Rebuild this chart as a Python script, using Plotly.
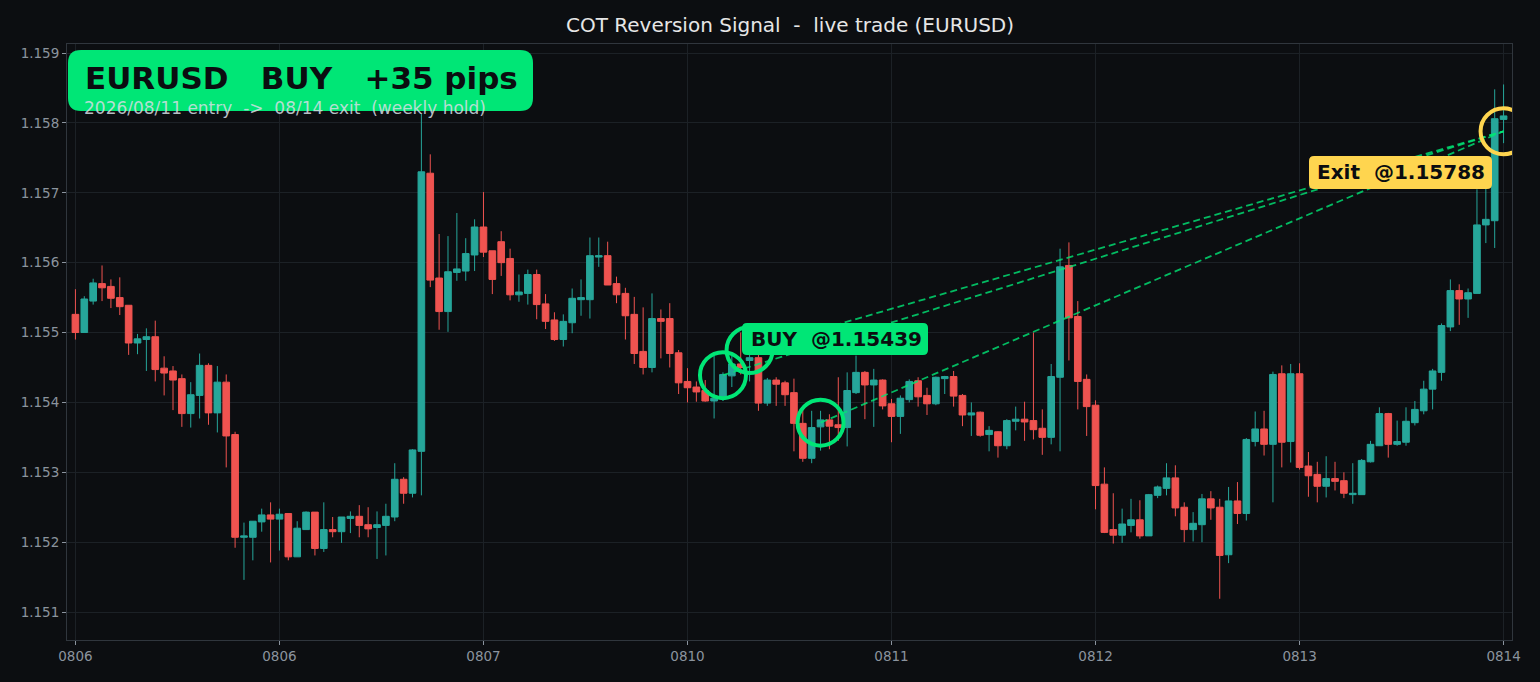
import plotly.graph_objects as go

# hourly EURUSD candles, 0806 -> 0814
OPEN = [1.15526, 1.15500, 1.15545, 1.15570, 1.15566, 1.15550, 1.15539, 1.15485, 1.15490, 1.15494,
        1.15449, 1.15445, 1.15434, 1.15384, 1.15410, 1.15453, 1.15385, 1.15429, 1.15354, 1.15207,
        1.15207, 1.15229, 1.15239, 1.15233, 1.15241, 1.15179, 1.15218, 1.15243, 1.15191, 1.15218,
        1.15215, 1.15234, 1.15237, 1.15225, 1.15221, 1.15224, 1.15236, 1.15290, 1.15270, 1.15330,
        1.15728, 1.15578, 1.15530, 1.15586, 1.15588, 1.15611, 1.15651, 1.15617, 1.15630, 1.15606,
        1.15554, 1.15556, 1.15583, 1.15541, 1.15518, 1.15490, 1.15514, 1.15547, 1.15547, 1.15608,
        1.15610, 1.15570, 1.15556, 1.15526, 1.15473, 1.15450, 1.15520, 1.15520, 1.15471, 1.15430,
        1.15422, 1.15417, 1.15402, 1.15405, 1.15438, 1.15455, 1.15460, 1.15464, 1.15399, 1.15432,
        1.15428, 1.15414, 1.15370, 1.15320, 1.15365, 1.15375, 1.15368, 1.15364, 1.15414, 1.15443,
        1.15425, 1.15432, 1.15398, 1.15380, 1.15404, 1.15431, 1.15410, 1.15398, 1.15434, 1.15437,
        1.15410, 1.15382, 1.15386, 1.15354, 1.15358, 1.15338, 1.15373, 1.15376, 1.15374, 1.15363,
        1.15350, 1.15436, 1.15596, 1.15523, 1.15433, 1.15396, 1.15283, 1.15218, 1.15210, 1.15224,
        1.15232, 1.15209, 1.15267, 1.15277, 1.15292, 1.15250, 1.15218, 1.15225, 1.15262, 1.15250,
        1.15182, 1.15259, 1.15241, 1.15344, 1.15362, 1.15340, 1.15441, 1.15344, 1.15441, 1.15309,
        1.15297, 1.15280, 1.15291, 1.15288, 1.15268, 1.15268, 1.15315, 1.15338, 1.15384, 1.15340,
        1.15343, 1.15371, 1.15388, 1.15419, 1.15443, 1.15508, 1.15560, 1.15548, 1.15556, 1.15654,
        1.15660, 1.15805]
HIGH = [1.15562, 1.15552, 1.15577, 1.15596, 1.15576, 1.15579, 1.15539, 1.15498, 1.15506, 1.15517,
        1.15466, 1.15452, 1.15440, 1.15429, 1.15470, 1.15456, 1.15452, 1.15440, 1.15358, 1.15228,
        1.15230, 1.15248, 1.15257, 1.15248, 1.15241, 1.15230, 1.15244, 1.15243, 1.15257, 1.15236,
        1.15236, 1.15244, 1.15253, 1.15250, 1.15244, 1.15255, 1.15313, 1.15293, 1.15333, 1.15813,
        1.15755, 1.15641, 1.15638, 1.15671, 1.15635, 1.15662, 1.15701, 1.15617, 1.15645, 1.15620,
        1.15583, 1.15590, 1.15590, 1.15555, 1.15529, 1.15526, 1.15563, 1.15576, 1.15636, 1.15636,
        1.15630, 1.15580, 1.15564, 1.15551, 1.15536, 1.15556, 1.15533, 1.15542, 1.15475, 1.15449,
        1.15430, 1.15432, 1.15467, 1.15443, 1.15470, 1.15500, 1.15500, 1.15468, 1.15435, 1.15436,
        1.15431, 1.15434, 1.15390, 1.15388, 1.15388, 1.15383, 1.15436, 1.15443, 1.15467, 1.15445,
        1.15448, 1.15433, 1.15405, 1.15410, 1.15433, 1.15436, 1.15421, 1.15437, 1.15438, 1.15445,
        1.15412, 1.15400, 1.15387, 1.15366, 1.15359, 1.15376, 1.15394, 1.15401, 1.15500, 1.15390,
        1.15455, 1.15620, 1.15629, 1.15545, 1.15440, 1.15403, 1.15307, 1.15270, 1.15248, 1.15262,
        1.15260, 1.15269, 1.15281, 1.15313, 1.15310, 1.15257, 1.15243, 1.15269, 1.15273, 1.15262,
        1.15279, 1.15286, 1.15349, 1.15387, 1.15388, 1.15444, 1.15453, 1.15455, 1.15456, 1.15329,
        1.15315, 1.15323, 1.15315, 1.15300, 1.15313, 1.15319, 1.15345, 1.15393, 1.15385, 1.15374,
        1.15393, 1.15402, 1.15431, 1.15448, 1.15513, 1.15576, 1.15569, 1.15563, 1.15705, 1.15709,
        1.15848, 1.15855]
LOW = [1.15490, 1.15500, 1.15540, 1.15545, 1.15535, 1.15525, 1.15468, 1.15469, 1.15445, 1.15430,
       1.15410, 1.15389, 1.15365, 1.15364, 1.15377, 1.15368, 1.15357, 1.15307, 1.15192, 1.15146,
       1.15174, 1.15215, 1.15171, 1.15188, 1.15174, 1.15179, 1.15218, 1.15181, 1.15186, 1.15207,
       1.15199, 1.15213, 1.15207, 1.15207, 1.15176, 1.15181, 1.15230, 1.15255, 1.15264, 1.15267,
       1.15565, 1.15504, 1.15501, 1.15574, 1.15574, 1.15588, 1.15608, 1.15555, 1.15581, 1.15546,
       1.15544, 1.15540, 1.15519, 1.15505, 1.15488, 1.15480, 1.15499, 1.15524, 1.15520, 1.15594,
       1.15568, 1.15542, 1.15490, 1.15455, 1.15440, 1.15443, 1.15463, 1.15450, 1.15412, 1.15400,
       1.15401, 1.15401, 1.15377, 1.15402, 1.15422, 1.15440, 1.15430, 1.15388, 1.15395, 1.15395,
       1.15395, 1.15330, 1.15315, 1.15313, 1.15331, 1.15333, 1.15345, 1.15337, 1.15412, 1.15376,
       1.15365, 1.15390, 1.15343, 1.15355, 1.15400, 1.15394, 1.15382, 1.15396, 1.15412, 1.15394,
       1.15366, 1.15352, 1.15351, 1.15330, 1.15321, 1.15333, 1.15360, 1.15345, 1.15347, 1.15325,
       1.15340, 1.15330, 1.15460, 1.15390, 1.15352, 1.15247, 1.15213, 1.15198, 1.15199, 1.15214,
       1.15205, 1.15209, 1.15263, 1.15267, 1.15237, 1.15200, 1.15201, 1.15200, 1.15232, 1.15119,
       1.15170, 1.15226, 1.15231, 1.15337, 1.15324, 1.15257, 1.15307, 1.15314, 1.15304, 1.15265,
       1.15257, 1.15264, 1.15274, 1.15263, 1.15255, 1.15268, 1.15314, 1.15338, 1.15321, 1.15338,
       1.15338, 1.15367, 1.15383, 1.15390, 1.15431, 1.15502, 1.15511, 1.15521, 1.15556, 1.15628,
       1.15621, 1.15771]
CLOSE = [1.15500, 1.15548, 1.15571, 1.15564, 1.15549, 1.15537, 1.15485, 1.15491, 1.15494, 1.15447,
         1.15442, 1.15432, 1.15384, 1.15411, 1.15453, 1.15385, 1.15429, 1.15352, 1.15207, 1.15209,
         1.15230, 1.15239, 1.15233, 1.15240, 1.15179, 1.15220, 1.15243, 1.15191, 1.15218, 1.15215,
         1.15236, 1.15237, 1.15224, 1.15219, 1.15225, 1.15237, 1.15290, 1.15270, 1.15332, 1.15730,
         1.15575, 1.15530, 1.15587, 1.15591, 1.15613, 1.15651, 1.15615, 1.15576, 1.15600, 1.15554,
         1.15558, 1.15583, 1.15540, 1.15516, 1.15490, 1.15516, 1.15549, 1.15550, 1.15610, 1.15610,
         1.15568, 1.15554, 1.15524, 1.15470, 1.15450, 1.15520, 1.15516, 1.15470, 1.15428, 1.15421,
         1.15415, 1.15402, 1.15406, 1.15440, 1.15455, 1.15450, 1.15464, 1.15399, 1.15432, 1.15426,
         1.15411, 1.15370, 1.15320, 1.15364, 1.15375, 1.15366, 1.15364, 1.15417, 1.15443, 1.15425,
         1.15432, 1.15395, 1.15380, 1.15406, 1.15430, 1.15408, 1.15398, 1.15436, 1.15437, 1.15409,
         1.15382, 1.15385, 1.15353, 1.15360, 1.15338, 1.15374, 1.15376, 1.15372, 1.15361, 1.15350,
         1.15437, 1.15594, 1.15521, 1.15430, 1.15394, 1.15281, 1.15214, 1.15210, 1.15226, 1.15232,
         1.15209, 1.15268, 1.15279, 1.15292, 1.15249, 1.15218, 1.15227, 1.15262, 1.15249, 1.15181,
         1.15259, 1.15241, 1.15347, 1.15362, 1.15340, 1.15440, 1.15343, 1.15441, 1.15307, 1.15295,
         1.15280, 1.15291, 1.15287, 1.15270, 1.15270, 1.15317, 1.15340, 1.15384, 1.15340, 1.15344,
         1.15373, 1.15390, 1.15419, 1.15445, 1.15510, 1.15560, 1.15548, 1.15557, 1.15654, 1.15662,
         1.15806, 1.15810]

TICK_LABELS = ["0806", "0806", "0807", "0810", "0811", "0812", "0813", "0814"]
TICK_STEP = 23

# trade markers
ENTRY_IDX = [73, 76, 84]
ENTRY_PRICE = [1.15439, 1.15475, 1.15371]
EXIT_IDX = 161
EXIT_PRICE = 1.15788

BG = "#0c0e11"
GRID = "#1c2126"
SPINE = "#30363d"
TICK_COL = "#8b949e"
GREEN = "#00e676"
YELLOW = "#ffd54f"
UP = "#26a69a"
DOWN = "#ef5350"
FONT = "DejaVu Sans"

W, H = 1540, 682
PLOT_L, PLOT_R, PLOT_T, PLOT_B = 67, 1512, 44, 640
PLOT_W = PLOT_R - PLOT_L
PLOT_H = PLOT_B - PLOT_T


def px(x):
    return (x - PLOT_L) / PLOT_W


def py(y):
    return (PLOT_B - y) / PLOT_H


def rounded_box(x0, y0, x1, y1, r, color):
    # rounded rectangle given in page pixels, drawn in paper coords
    path = (f"M {px(x0 + r)},{py(y0)} L {px(x1 - r)},{py(y0)} "
            f"Q {px(x1)},{py(y0)} {px(x1)},{py(y0 + r)} L {px(x1)},{py(y1 - r)} "
            f"Q {px(x1)},{py(y1)} {px(x1 - r)},{py(y1)} L {px(x0 + r)},{py(y1)} "
            f"Q {px(x0)},{py(y1)} {px(x0)},{py(y1 - r)} L {px(x0)},{py(y0 + r)} "
            f"Q {px(x0)},{py(y0)} {px(x0 + r)},{py(y0)} Z")
    return dict(type="path", path=path, xref="paper", yref="paper",
                fillcolor=color, line=dict(width=0), layer="above")


def label(text, x, y, size, color, bold=True, xanchor="left"):
    return dict(text=text, x=px(x), y=py(y), xref="paper", yref="paper",
                xanchor=xanchor, yanchor="middle", showarrow=False,
                font=dict(family=FONT, size=size, color=color,
                          weight="bold" if bold else "normal"))


idx = list(range(len(OPEN)))
tickvals = list(range(0, len(OPEN), TICK_STEP))

fig = go.Figure()

fig.add_trace(go.Candlestick(
    x=idx, open=OPEN, high=HIGH, low=LOW, close=CLOSE,
    increasing=dict(line=dict(color=UP, width=1), fillcolor=UP),
    decreasing=dict(line=dict(color=DOWN, width=1), fillcolor=DOWN),
    whiskerwidth=0, showlegend=False, hoverinfo="skip",
))

# dashed links entry -> exit
for e, p in zip(ENTRY_IDX, ENTRY_PRICE):
    fig.add_trace(go.Scatter(
        x=[e, EXIT_IDX], y=[p, EXIT_PRICE], mode="lines",
        line=dict(color="rgba(0,230,118,0.8)", width=1.8, dash="7px,4px"),
        showlegend=False, hoverinfo="skip",
    ))

fig.add_trace(go.Scatter(
    x=ENTRY_IDX, y=ENTRY_PRICE, mode="markers",
    marker=dict(symbol="circle-open", size=46, color=GREEN, line=dict(width=4, color=GREEN)),
    showlegend=False, hoverinfo="skip",
))
fig.add_trace(go.Scatter(
    x=[EXIT_IDX], y=[EXIT_PRICE], mode="markers",
    marker=dict(symbol="circle-open", size=46, color=YELLOW, line=dict(width=4, color=YELLOW)),
    showlegend=False, hoverinfo="skip",
))

nb = "\u00a0"
shapes = [
    rounded_box(68, 50, 533, 111, 13, GREEN),
    rounded_box(742, 323, 928, 355, 5, GREEN),
    rounded_box(1309, 156, 1492, 189, 5, YELLOW),
]
annotations = [
    label(f"COT Reversion Signal{nb}{nb}-{nb}{nb}live trade (EURUSD)", (PLOT_L + PLOT_R) / 2, 25,
          20, "#e6e6e6", bold=False, xanchor="center"),
    label(f"EURUSD{nb}{nb}{nb}BUY{nb}{nb}{nb}+35 pips", 83, 78, 31, "#0b0d10"),
    label(f"2026/08/11 entry{nb}{nb}->{nb}{nb}08/14 exit{nb}{nb}(weekly hold)", 82, 108, 17,
          "rgba(215,222,228,0.85)", bold=False),
    label(f"BUY{nb}{nb}@1.15439", 749, 339, 20, "#0b0d10"),
    label(f"Exit{nb}{nb}@1.15788", 1315, 172, 20, "#0b0d10"),
]

axis_common = dict(
    showgrid=True, gridcolor=GRID, gridwidth=1, zeroline=False,
    showline=True, linecolor=SPINE, linewidth=1, mirror=True,
    ticks="outside", ticklen=4, tickcolor=TICK_COL, tickwidth=1,
    tickfont=dict(family=FONT, size=13.5, color=TICK_COL),
)

fig.update_layout(
    width=W, height=H,
    paper_bgcolor=BG, plot_bgcolor=BG,
    margin=dict(l=PLOT_L, r=W - PLOT_R, t=PLOT_T, b=H - PLOT_B),
    shapes=shapes, annotations=annotations,
    boxgap=0.25, boxgroupgap=0,
    xaxis=dict(range=[-0.95, 161.95], tickvals=tickvals, ticktext=TICK_LABELS,
               rangeslider=dict(visible=False), **axis_common),
    yaxis=dict(range=[1.15060, 1.159129], dtick=0.001, tick0=1.151, tickformat=".3f",
               **axis_common),
    font=dict(family=FONT),
    hovermode=False,
)

# page has a default body margin; drop it so the figure fills the window
page_js = f"document.body.style.margin='0';document.body.style.background='{BG}';"
fig.write_html("out.html", post_script=page_js, config={"displayModeBar": False})
